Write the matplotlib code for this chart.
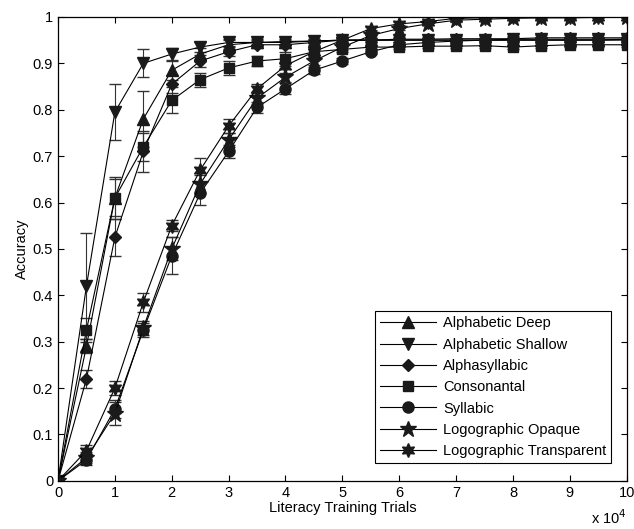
import numpy as np
import matplotlib
matplotlib.use("Agg")
import matplotlib.pyplot as plt

plt.rcParams["font.family"] = "Liberation Sans"
plt.rcParams["font.size"] = 10.5

# trials in units of 10^4
trials = [0, 0.5, 1, 1.5, 2, 2.5, 3, 3.5, 4, 4.5, 5, 5.5, 6, 6.5, 7, 7.5, 8, 8.5, 9, 9.5, 10]

alpha_deep = [0.0, 0.29, 0.61, 0.78, 0.885, 0.92, 0.94, 0.945, 0.945, 0.948, 0.95,
              0.95, 0.95, 0.95, 0.95, 0.95, 0.95, 0.95, 0.95, 0.95, 0.952]
alpha_deep_err = [0.005, 0.015, 0.045, 0.06, 0.02, 0.012, 0.01, 0.008, 0.006, 0.005, 0.005,
                  0.005, 0.005, 0.005, 0.005, 0.005, 0.005, 0.005, 0.005, 0.005, 0.005]
alpha_shallow = [0.0, 0.42, 0.795, 0.90, 0.92, 0.935, 0.945, 0.945, 0.947, 0.948, 0.95,
                 0.95, 0.95, 0.95, 0.95, 0.95, 0.952, 0.952, 0.952, 0.952, 0.952]
alpha_shallow_err = [0.005, 0.115, 0.06, 0.03, 0.012, 0.01, 0.008, 0.006, 0.005, 0.005, 0.005,
                     0.005, 0.005, 0.005, 0.005, 0.005, 0.005, 0.005, 0.005, 0.005, 0.005]
alphasyllabic = [0.0, 0.22, 0.525, 0.71, 0.855, 0.905, 0.925, 0.94, 0.94, 0.945, 0.95,
                 0.95, 0.952, 0.952, 0.953, 0.953, 0.953, 0.955, 0.955, 0.955, 0.955]
alphasyllabic_err = [0.005, 0.02, 0.04, 0.045, 0.02, 0.012, 0.01, 0.008, 0.006, 0.005, 0.005,
                     0.005, 0.005, 0.005, 0.005, 0.005, 0.005, 0.005, 0.005, 0.005, 0.005]
consonantal = [0.0, 0.325, 0.61, 0.72, 0.82, 0.865, 0.89, 0.905, 0.91, 0.925, 0.93,
               0.935, 0.935, 0.937, 0.937, 0.938, 0.935, 0.938, 0.94, 0.94, 0.94]
consonantal_err = [0.005, 0.025, 0.04, 0.03, 0.028, 0.015, 0.015, 0.01, 0.015, 0.008, 0.006,
                   0.005, 0.005, 0.005, 0.005, 0.005, 0.005, 0.005, 0.005, 0.005, 0.005]
syllabic = [0.0, 0.045, 0.155, 0.325, 0.485, 0.62, 0.71, 0.805, 0.845, 0.885, 0.905,
            0.925, 0.94, 0.945, 0.948, 0.95, 0.95, 0.95, 0.95, 0.95, 0.95]
syllabic_err = [0.005, 0.01, 0.02, 0.015, 0.04, 0.025, 0.015, 0.012, 0.012, 0.008, 0.006,
                0.005, 0.005, 0.005, 0.005, 0.005, 0.005, 0.005, 0.005, 0.005, 0.005]
logo_opaque = [0.0, 0.05, 0.145, 0.33, 0.50, 0.64, 0.735, 0.825, 0.87, 0.905, 0.935,
               0.96, 0.975, 0.985, 0.993, 0.995, 0.997, 0.998, 0.998, 0.999, 0.999]
logo_opaque_err = [0.005, 0.012, 0.025, 0.015, 0.025, 0.02, 0.015, 0.012, 0.01, 0.008, 0.006,
                   0.005, 0.004, 0.003, 0.003, 0.002, 0.002, 0.002, 0.002, 0.002, 0.002]
logo_transparent = [0.0, 0.065, 0.20, 0.385, 0.55, 0.67, 0.765, 0.845, 0.895, 0.925, 0.95,
                    0.975, 0.985, 0.99, 0.997, 0.998, 0.999, 0.999, 1.0, 1.0, 1.0]
logo_transparent_err = [0.005, 0.012, 0.015, 0.02, 0.012, 0.025, 0.015, 0.01, 0.008, 0.006, 0.005,
                        0.004, 0.003, 0.003, 0.002, 0.002, 0.002, 0.002, 0.002, 0.002, 0.002]

series = [
    ("Alphabetic Deep", alpha_deep, alpha_deep_err, "^", 8.5),
    ("Alphabetic Shallow", alpha_shallow, alpha_shallow_err, "v", 8.5),
    ("Alphasyllabic", alphasyllabic, alphasyllabic_err, "D", 6.5),
    ("Consonantal", consonantal, consonantal_err, "s", 7),
    ("Syllabic", syllabic, syllabic_err, "o", 8),
    ("Logographic Opaque", logo_opaque, logo_opaque_err, "*", 12),
    ("Logographic Transparent", logo_transparent, logo_transparent_err, (6, 1, 0), 10),
]

fig = plt.figure(figsize=(6.34, 5.29), dpi=100)
ax = fig.add_axes([0.0915, 0.091, 0.897, 0.877])

for name, y, err, mk, ms in series:
    ax.errorbar(trials, y, yerr=err, color="black", linewidth=0.8,
                marker=mk, markersize=ms, markerfacecolor="#1a1a1a",
                markeredgecolor="#1a1a1a", capsize=4, elinewidth=0.8,
                ecolor="#333333", label=name)

ax.set_xlim(0, 10)
ax.set_ylim(0, 1)
ax.set_xticks(np.arange(0, 11, 1))
ax.set_yticks(np.arange(0, 1.01, 0.1))
ax.set_yticklabels(["0", "0.1", "0.2", "0.3", "0.4", "0.5", "0.6", "0.7", "0.8", "0.9", "1"])
ax.tick_params(direction="in", top=True, right=True, length=4, width=0.8, labelsize=10.5)
for sp in ax.spines.values():
    sp.set_linewidth(0.9)

ax.set_xlabel("Literacy Training Trials", labelpad=1)
ax.set_ylabel("Accuracy", labelpad=3)
ax.text(1.0, -0.06, "x 10$^4$", transform=ax.transAxes, ha="right", va="top", fontsize=10.5)

handles, labels = ax.get_legend_handles_labels()
handles = [h[0] for h in handles]
leg = ax.legend(handles, labels, loc="lower right", bbox_to_anchor=(0.973, 0.038),
                fancybox=False, framealpha=1, edgecolor="black", fontsize=10.5,
                handlelength=3.8, handletextpad=0.5, labelspacing=0.5, borderpad=0.35,
                borderaxespad=0)
leg.get_frame().set_linewidth(0.8)

fig.savefig("out.png", dpi=100)
